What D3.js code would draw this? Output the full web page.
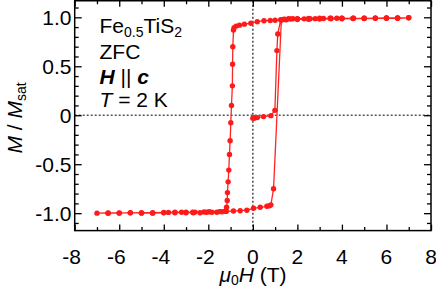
<!DOCTYPE html>
<html>
<head>
<meta charset="utf-8">
<script src="https://cdn.jsdelivr.net/npm/d3@7"></script>
<style>
    body { margin: 0; background: #fff; }
    svg { display: block; font-family: "Liberation Sans", Arial, sans-serif; }
</style>
</head>
<body>
<svg id="chart" width="436" height="289"></svg>
<script>
// virgin curve after zero field cooling, 0 -> 7 T
var virginH = [0.0, 0.05, 0.1, 0.2, 0.48, 0.81, 0.99, 1.08, 1.12, 1.25, 1.4, 1.6, 1.8, 2.0, 2.5, 3.0, 3.5, 4.0, 4.5, 5.0, 5.5, 6.0, 6.5, 7.0];
var virginM = [-0.03, -0.028, -0.026, -0.024, -0.014, -0.004, 0.05, 0.66, 0.83, 0.975, 0.98, 0.985, 0.985, 0.986, 0.988, 0.99, 0.99, 0.992, 0.99, 0.99, 0.992, 0.994, 0.993, 0.995];
// descending branch, 7 -> -7 T
var downH = [6.5, 6.0, 5.5, 5.0, 4.5, 4.0, 3.5, 3.0, 2.5, 2.0, 1.5, 1.0, 0.78, 0.5, 0.2, -0.09, -0.38, -0.6, -0.75, -0.84, -0.87, -0.9, -0.91, -0.92, -0.96, -0.99, -1.02, -1.05, -1.08, -1.11, -1.14, -1.15, -1.18, -1.2, -1.24, -1.39, -1.62, -1.84, -2.07, -2.37, -2.67, -3.0, -3.5, -4.0, -4.5, -5.0, -5.5, -6.0, -6.5, -7.0];
var downM = [0.99, 0.99, 0.99, 0.988, 0.987, 0.985, 0.985, 0.982, 0.98, 0.978, 0.975, 0.97, 0.968, 0.965, 0.955, 0.94, 0.93, 0.92, 0.91, 0.895, 0.87, 0.70, 0.52, 0.30, 0.10, -0.076, -0.26, -0.40, -0.56, -0.68, -0.79, -0.87, -0.94, -0.975, -0.98, -0.985, -0.99, -0.99, -0.99, -0.995, -0.995, -0.995, -0.995, -0.997, -1.0, -1.0, -0.995, -1.0, -1.0, -1.0];
// ascending branch, -7 -> 7 T
var upH = [-6.5, -6.0, -5.5, -5.0, -4.5, -4.0, -3.79, -3.5, -3.2, -3.0, -2.7, -2.6, -2.19, -1.96, -1.5, -1.2, -0.87, -0.57, -0.27, 0.03, 0.33, 0.63, 0.75, 0.81, 0.93, 1.28, 1.45, 1.7, 2.0, 2.3, 2.57, 2.8, 3.17, 3.47, 3.77, 4.0, 4.52, 5.0, 5.5, 6.0, 6.5, 7.0];
var upM = [-0.998, -0.997, -0.997, -0.995, -0.995, -0.993, -0.992, -0.99, -0.99, -0.99, -0.99, -0.989, -0.988, -0.986, -0.984, -0.982, -0.978, -0.975, -0.97, -0.95, -0.94, -0.93, -0.925, -0.915, -0.75, 0.97, 0.978, 0.982, 0.984, 0.984, 0.985, 0.986, 0.988, 0.99, 0.99, 0.99, 0.99, 0.99, 0.992, 0.993, 0.994, 0.995];

var xTicks = [-8, -6, -4, -2, 0, 2, 4, 6, 8];
var xMinor = [-7, -5, -3, -1, 1, 3, 5, 7];
var yTicks = [-1, -0.5, 0, 0.5, 1];
var yTickLabels = ["-1.0", "-0.5", "0", "0.5", "1.0"];
var yMinor = [-1.1, -0.9, -0.8, -0.7, -0.6, -0.4, -0.3, -0.2, -0.1, 0.1, 0.2, 0.3, 0.4, 0.6, 0.7, 0.8, 0.9, 1.1];

var plotLeft = 74.7, plotRight = 431, plotTop = 0.75, plotBottom = 230.6;
var svg = d3.select("#chart");

var x = d3.scaleLinear().domain([-8, 8]).range([plotLeft, plotRight]);
var y = d3.scaleLinear().domain([-1.178, 1.169]).range([plotBottom, plotTop]);

var points = [];
function addBranch(hs, ms) {
    hs.forEach(function (h, i) { points.push([h, ms[i]]); });
}
addBranch(virginH, virginM);
addBranch(downH, downM);
addBranch(upH, upM);

// dotted zero lines
svg.append("line")
    .attr("x1", x(0)).attr("x2", x(0))
    .attr("y1", plotTop).attr("y2", plotBottom)
    .attr("stroke", "#555").attr("stroke-width", 1.6)
    .attr("stroke-dasharray", "2 2");
svg.append("line")
    .attr("x1", plotLeft).attr("x2", plotRight)
    .attr("y1", y(0)).attr("y2", y(0))
    .attr("stroke", "#555").attr("stroke-width", 1.6)
    .attr("stroke-dasharray", "2 2");

// axes, ticks pointing inward on all four sides
function tickAxis(axis, values, size, transform) {
    var g = svg.append("g")
        .attr("transform", transform)
        .call(axis.tickValues(values).tickSize(-size).tickSizeOuter(0).tickFormat(""));
    g.select(".domain").remove();
    g.selectAll(".tick line").attr("stroke", "#000").attr("stroke-width", 1.3);
    return g;
}
tickAxis(d3.axisBottom(x), xTicks, 6, "translate(0," + plotBottom + ")");
tickAxis(d3.axisBottom(x), xMinor, 3.5, "translate(0," + plotBottom + ")");
tickAxis(d3.axisTop(x), xTicks, 6, "translate(0," + plotTop + ")");
tickAxis(d3.axisTop(x), xMinor, 3.5, "translate(0," + plotTop + ")");
tickAxis(d3.axisLeft(y), yTicks, 7, "translate(" + plotLeft + ",0)");
tickAxis(d3.axisLeft(y), yMinor, 4, "translate(" + plotLeft + ",0)");
tickAxis(d3.axisRight(y), yTicks, 7, "translate(" + plotRight + ",0)");
tickAxis(d3.axisRight(y), yMinor, 4, "translate(" + plotRight + ",0)");

svg.append("rect")
    .attr("x", plotLeft).attr("y", plotTop)
    .attr("width", plotRight - plotLeft).attr("height", plotBottom - plotTop)
    .attr("fill", "none").attr("stroke", "#000").attr("stroke-width", 1.5);

// tick labels
svg.selectAll("text.xlab")
    .data(xTicks)
    .enter()
    .append("text")
    .attr("class", "xlab")
    .attr("x", function (d) { return x(d) + (d < 0 ? -3 : 0); })
    .attr("y", 264)
    .attr("text-anchor", "middle")
    .attr("font-size", 21)
    .text(function (d) { return d; });
svg.selectAll("text.ylab")
    .data(yTicks)
    .enter()
    .append("text")
    .attr("class", "ylab")
    .attr("x", 71.5)
    .attr("y", function (d) { return y(d) + 7.5; })
    .attr("text-anchor", "end")
    .attr("font-size", 21)
    .text(function (d, i) { return yTickLabels[i]; });

// axis titles
var xt = svg.append("text")
    .attr("x", 253).attr("y", 282)
    .attr("text-anchor", "middle")
    .attr("font-size", 21);
xt.append("tspan").attr("font-style", "italic").text("μ");
xt.append("tspan").attr("font-size", 14).attr("dy", 3).text("0");
xt.append("tspan").attr("font-style", "italic").attr("dy", -3).text("H");
xt.append("tspan").text(" (T)");

var yt = svg.append("text")
    .attr("transform", "translate(22,118) rotate(-90)")
    .attr("text-anchor", "middle")
    .attr("font-size", 21);
yt.append("tspan").attr("font-style", "italic").text("M");
yt.append("tspan").text(" / ");
yt.append("tspan").attr("font-style", "italic").text("M");
yt.append("tspan").attr("font-size", 14).attr("dy", 4).text("sat");

// sample annotation
var ax = 99.5;
var t1 = svg.append("text").attr("x", ax).attr("y", 33).attr("font-size", 21);
t1.append("tspan").text("Fe");
t1.append("tspan").attr("font-size", 14).attr("dy", 4).text("0.5");
t1.append("tspan").attr("dy", -4).text("TiS");
t1.append("tspan").attr("font-size", 14).attr("dy", 4).text("2");
svg.append("text").attr("x", ax).attr("y", 59).attr("font-size", 21).text("ZFC");
var t3 = svg.append("text").attr("x", ax).attr("y", 83.5).attr("font-size", 21);
t3.append("tspan").attr("font-weight", "bold").attr("font-style", "italic").text("H");
t3.append("tspan").text(" || ");
t3.append("tspan").attr("font-weight", "bold").attr("font-style", "italic").text("c");
var t4 = svg.append("text").attr("x", ax).attr("y", 107).attr("font-size", 21);
t4.append("tspan").attr("font-style", "italic").text("T");
t4.append("tspan").text(" = 2 K");

// data
var lineGenerator = d3.line()
    .x(function (d) { return x(d[0]); })
    .y(function (d) { return y(d[1]); });
svg.append("path")
    .attr("d", lineGenerator(points))
    .attr("fill", "none")
    .attr("stroke", "#ff2424")
    .attr("stroke-width", 1.3);
svg.selectAll("circle.pt")
    .data(points)
    .enter()
    .append("circle")
    .attr("class", "pt")
    .attr("cx", function (d) { return x(d[0]); })
    .attr("cy", function (d) { return y(d[1]); })
    .attr("r", 2.7)
    .attr("fill", "#ff1a1a");
</script>
</body>
</html>
